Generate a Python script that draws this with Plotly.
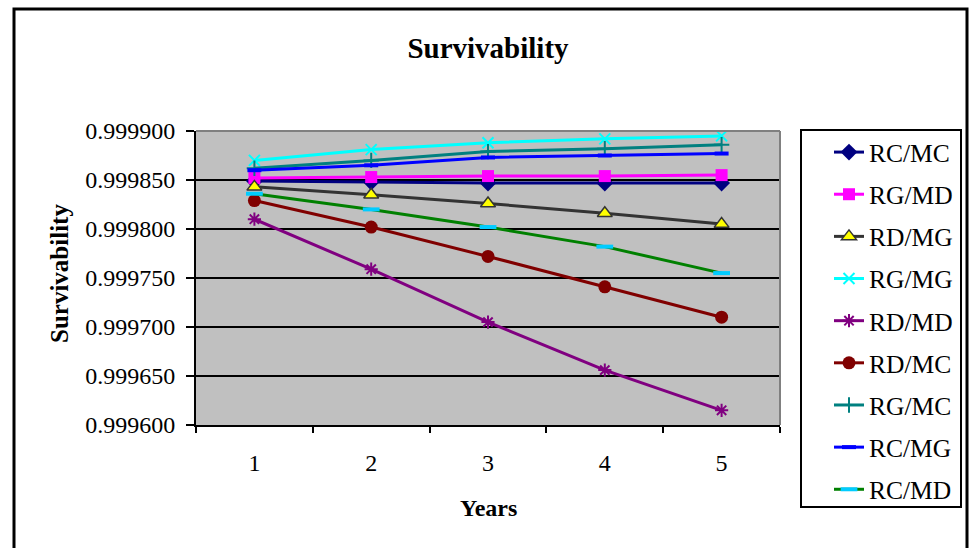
import plotly.graph_objects as go

years = ["1", "2", "3", "4", "5"]

rc_mc = [0.999849, 0.999848, 0.999847, 0.999847, 0.999847]
rg_md = [0.999852, 0.999853, 0.999854, 0.999854, 0.999855]
rd_mg = [0.999843, 0.999835, 0.999826, 0.999816, 0.999805]
rg_mg = [0.999870, 0.999881, 0.999888, 0.999892, 0.999895]
rd_md = [0.999810, 0.999759, 0.999705, 0.999656, 0.999615]
rd_mc = [0.999829, 0.999802, 0.999772, 0.999741, 0.999710]
rg_mc = [0.999862, 0.999870, 0.999879, 0.999882, 0.999886]
rc_mg = [0.999860, 0.999865, 0.999873, 0.999875, 0.999877]
rc_md = [0.999836, 0.999820, 0.999802, 0.999782, 0.999755]

y_ticks = [0.9996, 0.99965, 0.9997, 0.99975, 0.9998, 0.99985, 0.9999]

series = [
    ("RC/MC", rc_mc, "#000080", dict(symbol="diamond", size=13, color="#000080")),
    ("RG/MD", rg_md, "#FF00FF", dict(symbol="square", size=12, color="#FF00FF")),
    ("RD/MG", rd_mg, "#333333", dict(symbol="triangle-up", size=13, color="#FFFF00",
                                     line=dict(color="#333333", width=1.5))),
    ("RG/MG", rg_mg, "#00FFFF", dict(symbol="x-thin", size=11, color="#00FFFF",
                                     line=dict(color="#00FFFF", width=2))),
    ("RD/MD", rd_md, "#800080", dict(symbol="asterisk", size=11, color="#800080",
                                     line=dict(color="#800080", width=2))),
    ("RD/MC", rd_mc, "#800000", dict(symbol="circle", size=13, color="#800000")),
    ("RG/MC", rg_mc, "#008080", dict(symbol="cross-thin", size=11, color="#008080",
                                     line=dict(color="#008080", width=2))),
    ("RC/MG", rc_mg, "#0000FF", dict(symbol="line-ew", size=10, color="#0000FF",
                                     line=dict(color="#0000FF", width=4))),
    ("RC/MD", rc_md, "#008000", dict(symbol="line-ew", size=12, color="#00CCFF",
                                     line=dict(color="#00CCFF", width=4))),
]

fig = go.Figure()
for name, vals, col, mk in series:
    fig.add_trace(go.Scatter(
        x=years, y=vals, name=name, mode="lines+markers",
        line=dict(color=col, width=3), marker=mk, legendgroup=name,
    ))

W, H = 971, 548
L, R, T, B = 196, 191, 131, 123
pw, ph = W - L - R, H - T - B

def px_x(p):
    return (p - L) / pw

def px_y(p):
    return (H - B - p) / ph

font_family = "Liberation Serif, Times New Roman, serif"

fig.update_layout(
    width=W, height=H,
    margin=dict(l=L, r=R, t=T, b=B, autoexpand=False),
    paper_bgcolor="white",
    plot_bgcolor="#C0C0C0",
    font=dict(family=font_family, color="black", size=24),
    title=dict(text="<b>Survivability</b>", x=0.5, xref="paper", xanchor="center",
               y=1 - 48 / H, yanchor="middle", font=dict(size=29, family=font_family)),
    showlegend=True,
    legend=dict(x=px_x(829), y=px_y(129), xanchor="left", yanchor="top",
                bgcolor="rgba(0,0,0,0)", borderwidth=0, tracegroupgap=6,
                maxheight=530,
                font=dict(size=25.5, family=font_family)),
    xaxis=dict(
        type="category", range=[-0.5, 4.5], tickson="boundaries", ticks="outside",
        ticklen=6, tickwidth=2, tickcolor="black", showline=True, linecolor="black",
        linewidth=2, showgrid=False, ticklabelstandoff=15,
    ),
    yaxis=dict(
        range=[0.9996, 0.9999], tickvals=y_ticks, tickformat=".6f",
        ticks="outside", ticklen=8, tickwidth=2, tickcolor="black",
        showline=True, linecolor="black", linewidth=2, ticklabelstandoff=6,
        showgrid=True, gridcolor="black", gridwidth=2, zeroline=False,
    ),
    annotations=[
        dict(text="<b>Survivability</b>", xref="paper", yref="paper",
             x=px_x(59), y=px_y(274), textangle=-90, showarrow=False,
             xanchor="center", yanchor="middle", font=dict(size=25)),
        dict(text="<b>Years</b>", xref="paper", yref="paper",
             x=0.5, y=px_y(508), showarrow=False,
             xanchor="center", yanchor="middle", font=dict(size=24)),
    ],
    shapes=[
        dict(type="line", xref="paper", yref="paper", x0=0, x1=1, y0=1, y1=1,
             line=dict(color="#808080", width=2)),
        dict(type="line", xref="paper", yref="paper", x0=1, x1=1, y0=0, y1=1,
             line=dict(color="#808080", width=2)),
        dict(type="rect", xref="paper", yref="paper",
             x0=px_x(801), x1=px_x(961), y0=px_y(507), y1=px_y(130),
             line=dict(color="black", width=2), fillcolor="rgba(0,0,0,0)"),
        dict(type="rect", xref="paper", yref="paper",
             x0=px_x(14), x1=px_x(967), y0=px_y(620), y1=px_y(9),
             line=dict(color="black", width=3), fillcolor="rgba(0,0,0,0)"),
    ],
)

fig.write_html("out.html", config={"displayModeBar": False},
               post_script="document.body.style.margin='0px';")
